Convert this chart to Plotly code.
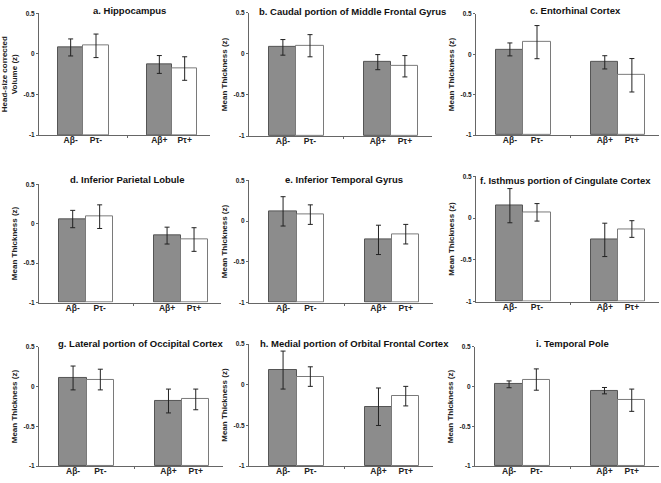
import plotly.graph_objects as go

W, H = 661, 483

groups = ["Aβ-", "Pτ-", "Aβ+", "Pτ+"]
xpos = [0, 1, 3.5, 4.5]

titles = [
    "a. Hippocampus",
    "b. Caudal portion of Middle Frontal Gyrus",
    "c. Entorhinal Cortex",
    "d. Inferior Parietal Lobule",
    "e. Inferior Temporal Gyrus",
    "f. Isthmus portion of Cingulate Cortex",
    "g. Lateral portion of Occipital Cortex",
    "h. Medial portion of Orbital Frontal Cortex",
    "i. Temporal Pole",
]
ytitles = ["Head-size corrected<br>Volume (z)"] + ["Mean Thickness (z)"] * 8

# values per panel: [Aβ-, Pτ-, Aβ+, Pτ+]
means = [
    [0.08, 0.10, -0.13, -0.18],
    [0.08, 0.10, -0.10, -0.15],
    [0.06, 0.15, -0.10, -0.26],
    [0.06, 0.09, -0.15, -0.20],
    [0.12, 0.08, -0.23, -0.16],
    [0.15, 0.07, -0.26, -0.13],
    [0.11, 0.09, -0.18, -0.16],
    [0.18, 0.10, -0.27, -0.14],
    [0.03, 0.09, -0.05, -0.17],
]
errors = [
    [0.105, 0.145, 0.11, 0.145],
    [0.095, 0.135, 0.092, 0.13],
    [0.08, 0.205, 0.082, 0.207],
    [0.11, 0.15, 0.107, 0.15],
    [0.18, 0.12, 0.18, 0.12],
    [0.205, 0.105, 0.20, 0.10],
    [0.15, 0.13, 0.15, 0.13],
    [0.233, 0.12, 0.23, 0.12],
    [0.043, 0.134, 0.04, 0.14],
]

yticks = [0.5, 0, -0.5, -1]
yticktext = ["0.5", "0", "-0.5", "-1"]
ybase = -1

# layout (pixels): x_left, x_right, y_top, y_bottom
boxes = [
    (39, 210, 9.5, 133), (249, 432, 9, 134), (476, 659, 10, 133),
    (39, 221, 183, 303), (249, 433, 179, 303), (476, 659, 175, 302),
    (39, 223, 348, 469), (249, 433, 345, 469), (475, 659, 348, 469),
]
title_pos = [
    (129, 7), (352, 8), (575, 7),
    (127, 178), (344, 178), (565, 179),
    (140, 344), (354, 344), (572, 344),
]

fig = go.Figure()
font_fam = "Liberation Sans, Arial, sans-serif"
annotations = []

for i in range(9):
    n = "" if i == 0 else str(i + 1)
    xl, xr, yt, yb = boxes[i]
    fig.add_trace(go.Bar(
        x=xpos, y=[m - ybase for m in means[i]], base=ybase, width=1,
        marker=dict(color=["#8c8c8c", "#ffffff", "#8c8c8c", "#ffffff"],
                    line=dict(color=["#555555", "#7a7a7a", "#555555", "#7a7a7a"], width=1)),
        error_y=dict(type="data", array=errors[i], color="#222222", thickness=1, width=2.5),
        xaxis="x" + n, yaxis="y" + n, showlegend=False,
    ))
    fig.layout["xaxis" + n] = dict(
        domain=[xl / W, xr / W], range=[-1.25, 5.5], anchor="y" + n,
        tickmode="array", tickvals=xpos, ticktext=[f"<b>{g}</b>" for g in groups],
        ticks="", showgrid=False, zeroline=False, showline=True,
        linecolor="#666666", linewidth=1, ticklabelstandoff=-3,
        tickfont=dict(family=font_fam, size=8.5, color="#222222"),
        minor=dict(tickmode="array", tickvals=[2.25], ticks="outside", ticklen=2,
                   tickcolor="#666666", showgrid=False),
        fixedrange=True,
    )
    fig.layout["yaxis" + n] = dict(
        domain=[1 - yb / H, 1 - yt / H], range=[-1, 0.5], anchor="x" + n,
        tickmode="array", tickvals=yticks, ticktext=[f"<b>{t}</b>" for t in yticktext],
        ticks="outside", ticklen=2, tickcolor="#666666",
        showgrid=False, zeroline=False, showline=True,
        linecolor="#666666", linewidth=1,
        tickfont=dict(family=font_fam, size=6.5, color="#222222"),
        title=dict(text=f"<b>{ytitles[i]}</b>", font=dict(family=font_fam, size=8, color="#222222"),
                   standoff=4),
        fixedrange=True,
    )
    tx, ty = title_pos[i]
    annotations.append(dict(
        x=tx / W, y=1 - ty / H, xref="paper", yref="paper",
        text=f"<b>{titles[i]}</b>", showarrow=False,
        xanchor="center", yanchor="middle",
        font=dict(family=font_fam, size=9.5, color="#111111"),
    ))

fig.update_layout(
    width=W, height=H, margin=dict(l=0, r=0, t=0, b=0),
    paper_bgcolor="white", plot_bgcolor="white",
    annotations=annotations, bargap=0,
)

fig.write_html("out.html", config={"displayModeBar": False},
               post_script="document.body.style.margin='0';document.body.style.overflow='hidden';")
